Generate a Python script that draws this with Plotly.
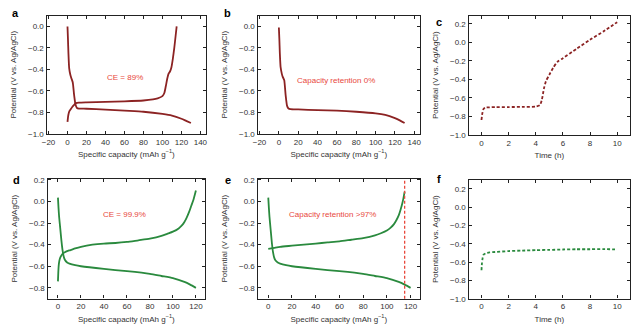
import plotly.graph_objects as go

# ---------------- data ----------------
# panel a: first cycle (dark red)
a_dis_x = [0, 0.5, 1, 1.8, 3, 4, 5.5, 7, 8.5, 10, 12, 20, 40, 60, 80, 100, 110, 120, 125, 130]
a_dis_y = [0.0, -0.12, -0.25, -0.39, -0.45, -0.48, -0.52, -0.64, -0.73, -0.76, -0.765, -0.767, -0.775, -0.785, -0.795, -0.815, -0.83, -0.86, -0.88, -0.90]
a_chg_x = [0, 0.5, 1, 2, 3.5, 5, 7, 9, 12, 20, 40, 60, 80, 90, 95, 100, 102, 103.5, 105, 106.5, 108, 109.5, 111, 112.5, 114, 115]
a_chg_y = [-0.89, -0.85, -0.82, -0.79, -0.77, -0.75, -0.73, -0.715, -0.71, -0.707, -0.703, -0.698, -0.69, -0.68, -0.67, -0.65, -0.62, -0.56, -0.49, -0.44, -0.42, -0.38, -0.30, -0.20, -0.08, 0.0]

# panel b: discharge only
b_dis_x = [0, 0.5, 1, 1.8, 3, 4, 5.5, 7, 8.5, 10, 12, 20, 40, 60, 80, 100, 110, 120, 125, 130]
b_dis_y = [-0.01, -0.12, -0.25, -0.38, -0.44, -0.47, -0.50, -0.64, -0.74, -0.765, -0.77, -0.773, -0.78, -0.785, -0.795, -0.81, -0.825, -0.855, -0.875, -0.90]

# panel c: time profile (dark red dashed)
c_t = [0, 0.05, 0.15, 0.3, 0.6, 1, 2, 3, 4, 4.3, 4.45, 4.6, 4.75, 5, 5.3, 5.6, 6, 7, 8, 9, 10]
c_v = [-0.84, -0.78, -0.72, -0.705, -0.703, -0.70, -0.70, -0.698, -0.695, -0.68, -0.62, -0.50, -0.42, -0.35, -0.27, -0.21, -0.17, -0.07, 0.03, 0.12, 0.22]

# panel d: green, CE 99.9%
d_dis_x = [0, 0.5, 1, 2, 3, 4, 5, 6, 8, 10, 15, 20, 40, 60, 80, 90, 100, 110, 115, 120]
d_dis_y = [0.035, -0.06, -0.14, -0.25, -0.36, -0.45, -0.51, -0.54, -0.565, -0.575, -0.59, -0.60, -0.625, -0.645, -0.67, -0.69, -0.71, -0.745, -0.77, -0.80]
d_chg_x = [0, 0.3, 0.7, 1.2, 2, 3, 4, 6, 8, 11, 15, 20, 30, 40, 50, 60, 70, 80, 90, 95, 100, 105, 108, 110, 112, 114, 116, 118, 120]
d_chg_y = [-0.74, -0.66, -0.59, -0.55, -0.52, -0.50, -0.485, -0.47, -0.46, -0.45, -0.435, -0.42, -0.40, -0.39, -0.385, -0.375, -0.36, -0.345, -0.32, -0.30, -0.28, -0.25, -0.22, -0.19, -0.15, -0.10, -0.04, 0.02, 0.10]

# panel e: green, capacity retention
e_dis_x = [0, 0.5, 1, 2, 3, 4, 5, 6, 8, 10, 15, 20, 40, 60, 80, 90, 100, 110, 115, 120]
e_dis_y = [0.035, -0.06, -0.14, -0.26, -0.38, -0.47, -0.52, -0.545, -0.565, -0.575, -0.59, -0.60, -0.625, -0.645, -0.67, -0.69, -0.71, -0.745, -0.77, -0.80]
e_chg_x = [0, 5, 10, 20, 30, 40, 50, 60, 70, 80, 90, 95, 100, 103, 106, 108, 110, 111.5, 113, 114, 115]
e_chg_y = [-0.44, -0.43, -0.42, -0.41, -0.40, -0.39, -0.38, -0.37, -0.355, -0.34, -0.315, -0.295, -0.27, -0.245, -0.21, -0.175, -0.13, -0.08, -0.02, 0.03, 0.09]
e_cutoff = 115

# panel f: green dashed
f_t = [0, 0.03, 0.08, 0.15, 0.3, 0.6, 1, 2, 3, 4, 5, 6, 7, 8, 9, 10]
f_v = [-0.69, -0.62, -0.56, -0.52, -0.505, -0.495, -0.49, -0.48, -0.475, -0.47, -0.467, -0.463, -0.46, -0.46, -0.458, -0.463]

cap_ticks_ab = [-20, 0, 20, 40, 60, 80, 100, 120, 140]
cap_ticks_de = [0, 20, 40, 60, 80, 100, 120]
time_ticks = [0, 2, 4, 6, 8, 10]
y_ticks_ab = [-1.0, -0.8, -0.6, -0.4, -0.2, 0.0]
y_ticks_cf = [-1.0, -0.8, -0.6, -0.4, -0.2, 0.0, 0.2]
y_ticks_de = [-0.8, -0.6, -0.4, -0.2, 0.0, 0.2]

# ---------------- style ----------------
W, H = 638, 332
RED = "#8c2323"
GREEN = "#2a8a3e"
NOTE = "#e8483c"
FONT = "Liberation Sans, Arial, sans-serif"

def dom(px0, px1, total, flip=False):
    if flip:
        return [1 - px1 / total, 1 - px0 / total]
    return [px0 / total, px1 / total]

panels = {
    1: dict(x=(42, 203), y=(13, 134), xr=[-22, 146], yr=[-1.0, 0.1], xt=cap_ticks_ab, yt=y_ticks_ab,
            xtitle="Specific capacity (mAh g<sup>−1</sup>)"),
    2: dict(x=(255, 419), y=(13, 134), xr=[-22, 146], yr=[-1.0, 0.1], xt=cap_ticks_ab, yt=y_ticks_ab,
            xtitle="Specific capacity (mAh g<sup>−1</sup>)"),
    3: dict(x=(468, 631), y=(13, 135), xr=[-0.95, 10.95], yr=[-1.0, 0.29], xt=time_ticks, yt=y_ticks_cf,
            xtitle="Time (h)"),
    4: dict(x=(43, 202), y=(180, 303), xr=[-9, 128], yr=[-0.9, 0.21], xt=cap_ticks_de, yt=y_ticks_de,
            xtitle="Specific capacity (mAh g<sup>−1</sup>)"),
    5: dict(x=(255, 419), y=(180, 303), xr=[-9, 128], yr=[-0.9, 0.21], xt=cap_ticks_de, yt=y_ticks_de,
            xtitle="Specific capacity (mAh g<sup>−1</sup>)"),
    6: dict(x=(468, 631), y=(181, 303), xr=[-0.95, 10.95], yr=[-1.0, 0.3], xt=time_ticks, yt=y_ticks_cf,
            xtitle="Time (h)"),
}

fig = go.Figure()

def add(i, x, y, color, dash="solid"):
    sfx = "" if i == 1 else str(i)
    fig.add_trace(go.Scatter(x=x, y=y, mode="lines", xaxis="x" + sfx, yaxis="y" + sfx,
                             line=dict(color=color, width=1.8, dash=dash, shape="spline", smoothing=0.6),
                             showlegend=False, hoverinfo="skip"))

add(1, a_dis_x, a_dis_y, RED)
add(1, a_chg_x, a_chg_y, RED)
add(2, b_dis_x, b_dis_y, RED)
add(3, c_t, c_v, RED, dash="3px,2px")
add(4, d_dis_x, d_dis_y, GREEN)
add(4, d_chg_x, d_chg_y, GREEN)
add(5, e_dis_x, e_dis_y, GREEN)
add(5, e_chg_x, e_chg_y, GREEN)
add(6, f_t, f_v, GREEN, dash="3px,2px")

layout = dict(width=W, height=H, margin=dict(l=0, r=0, t=0, b=0),
              paper_bgcolor="white", plot_bgcolor="white",
              font=dict(family=FONT, size=8, color="#333333"))

for i, p in panels.items():
    sfx = "" if i == 1 else str(i)
    ax_common = dict(showline=True, linecolor="#222222", linewidth=1.4, mirror="ticks",
                     ticks="inside", ticklen=3, tickwidth=1, tickcolor="#222222",
                     showgrid=False, zeroline=False, tickfont=dict(size=8, color="#333333"))
    layout["xaxis" + sfx] = dict(domain=dom(*p["x"], W), range=p["xr"], tickvals=p["xt"],
                                 anchor="y" + sfx,
                                 title=dict(text=p["xtitle"], font=dict(size=8), standoff=5),
                                 **ax_common)
    layout["yaxis" + sfx] = dict(domain=dom(*p["y"], H, flip=True), range=p["yr"], tickvals=p["yt"],
                                 tickformat=".1f", anchor="x" + sfx,
                                 title=dict(text="Potential (V vs. Ag/AgCl)", font=dict(size=8), standoff=10),
                                 **ax_common)

fig.update_layout(**layout)

# panel letters
for lbl, px, py in [("a", 11, 10), ("b", 225, 10), ("c", 438, 19), ("d", 12, 181), ("e", 225, 181), ("f", 438, 180)]:
    fig.add_annotation(text="<b>%s</b>" % lbl, xref="paper", yref="paper", x=px / W, y=1 - py / H,
                       showarrow=False, font=dict(size=11, color="black", family=FONT),
                       xanchor="center", yanchor="middle")

# in-panel notes
notes = [("CE = 89%", "x", "y", 61, -0.48),
         ("Capacity retention 0%", "x2", "y2", 59, -0.5),
         ("CE = 99.9%", "x4", "y4", 58, -0.12),
         ("Capacity retention >97%", "x5", "y5", 54, -0.12)]
for t, xr, yr, x, y in notes:
    fig.add_annotation(text=t, xref=xr, yref=yr, x=x, y=y, showarrow=False,
                       font=dict(size=8, color=NOTE, family=FONT))

fig.add_shape(type="line", xref="x5", yref="y5 domain", x0=e_cutoff, x1=e_cutoff, y0=0, y1=1,
              line=dict(color=NOTE, width=1.3, dash="3px,2px"))

fig.write_html("out.html")
